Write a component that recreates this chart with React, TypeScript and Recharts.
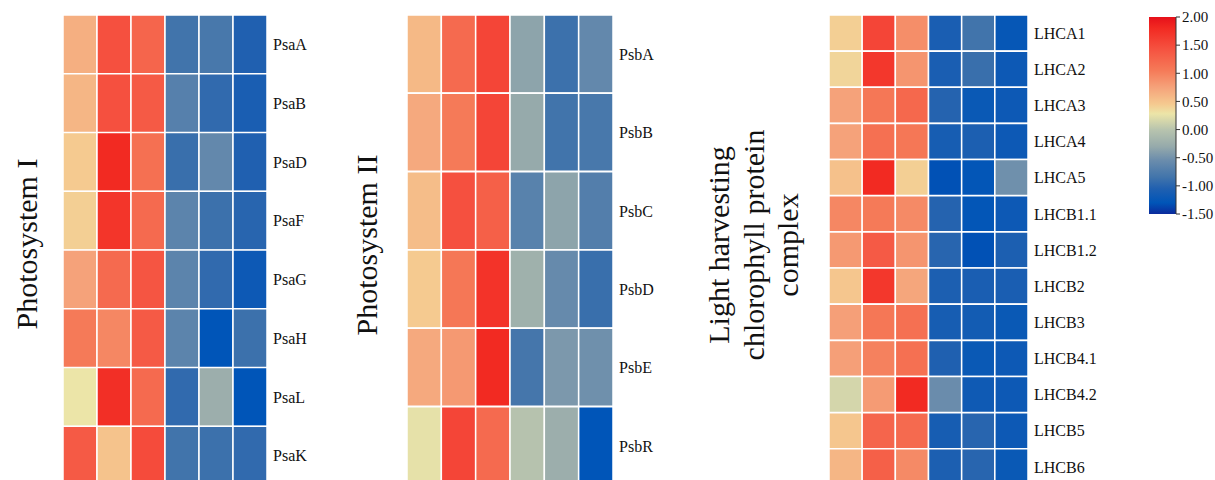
import { Bar, BarChart, Cell, ComposedChart, ReferenceArea, XAxis, YAxis } from 'recharts';

const FONT = "'Liberation Serif', 'Times New Roman', serif";

const psaGenes = ['PsaA', 'PsaB', 'PsaD', 'PsaF', 'PsaG', 'PsaH', 'PsaL', 'PsaK'];
const psaValues = [
  [0.65, 1.45, 1.25, -0.85, -0.8, -1.05],
  [0.6, 1.45, 1.35, -0.7, -0.95, -1.1],
  [0.45, 1.8, 1.15, -0.9, -0.6, -1.05],
  [0.42, 1.7, 1.2, -0.65, -0.88, -1.0],
  [0.75, 1.2, 1.4, -0.65, -0.95, -1.2],
  [1.05, 0.95, 1.35, -0.65, -1.3, -0.88],
  [0.28, 1.75, 1.2, -0.95, -0.25, -1.3],
  [1.35, 0.5, 1.5, -0.85, -0.88, -0.95],
];

const psbGenes = ['PsbA', 'PsbB', 'PsbC', 'PsbD', 'PsbE', 'PsbR'];
const psbValues = [
  [0.58, 1.2, 1.55, -0.35, -0.88, -0.6],
  [0.7, 1.05, 1.55, -0.3, -0.85, -0.8],
  [0.55, 1.45, 1.3, -0.68, -0.35, -0.72],
  [0.45, 1.08, 1.72, -0.22, -0.58, -0.9],
  [0.7, 0.82, 1.8, -0.82, -0.45, -0.52],
  [0.25, 1.55, 1.2, -0.02, -0.25, -1.3],
];

const lhcGenes = ['LHCA1', 'LHCA2', 'LHCA3', 'LHCA4', 'LHCA5', 'LHCB1.1', 'LHCB1.2', 'LHCB2', 'LHCB3', 'LHCB4.1', 'LHCB4.2', 'LHCB5', 'LHCB6'];
const lhcValues = [
  [0.42, 1.55, 0.9, -1.1, -0.85, -1.25],
  [0.38, 1.68, 0.85, -1.1, -0.9, -1.2],
  [0.75, 1.08, 1.22, -1.02, -1.22, -1.2],
  [0.75, 1.15, 1.08, -1.12, -1.08, -1.2],
  [0.52, 1.8, 0.42, -1.32, -1.28, -0.52],
  [0.95, 1.05, 0.93, -1.02, -1.28, -1.2],
  [0.82, 1.35, 0.85, -1.0, -1.32, -1.08],
  [0.48, 1.68, 0.72, -1.08, -1.1, -1.1],
  [0.77, 1.08, 1.15, -1.12, -1.15, -1.22],
  [0.77, 1.0, 1.15, -1.06, -1.22, -1.2],
  [0.15, 0.8, 1.8, -0.55, -1.18, -1.2],
  [0.48, 1.25, 1.2, -1.12, -1.0, -1.2],
  [0.6, 1.3, 0.93, -1.08, -1.0, -1.22],
];

const scaleTicks = [-1.5, -1, -0.5, 0, 0.5, 1, 1.5, 2];

// colour map
const STOPS: [number, string][] = [
  [-1.5, '#0b2a9c'], [-1.3, '#0055b8'], [-1.05, '#2060b0'], [-0.85, '#4174ab'],
  [-0.55, '#6a8cac'], [-0.3, '#96aaab'], [0, '#b8c4ae'], [0.28, '#ece5a8'],
  [0.45, '#f5ca90'], [0.75, '#f5a27a'], [1.05, '#f57a58'], [1.45, '#f5503f'],
  [1.8, '#f22a22'], [2.0, '#e6101a'],
];

const COLS = ['c0', 'c1', 'c2', 'c3', 'c4', 'c5'];

function rgb(h: string) {
  return [1, 3, 5].map((i) => parseInt(h.slice(i, i + 2), 16));
}

function colorFor(v: number) {
  if (v <= STOPS[0][0]) return STOPS[0][1];
  for (let i = 1; i < STOPS.length; i++) {
    const [v1, c1] = STOPS[i];
    if (v <= v1) {
      const [v0, c0] = STOPS[i - 1];
      const t = (v - v0) / (v1 - v0);
      const a = rgb(c0), b = rgb(c1);
      return `rgb(${a.map((x, k) => Math.round(x + (b[k] - x) * t)).join(',')})`;
    }
  }
  return STOPS[STOPS.length - 1][1];
}

function Heatmap({ genes, values, left, width }: { genes: string[]; values: number[][]; left: number; width: number }) {
  const data = genes.map((g) => ({ name: g, c0: 1, c1: 1, c2: 1, c3: 1, c4: 1, c5: 1 }));
  return (
    <div style={{ position: 'absolute', left, top: 0 }}>
      <BarChart width={width + 75} height={485} data={data} layout="vertical" margin={{ top: 15, right: 0, bottom: 0, left: 0 }} barCategoryGap={0}>
        <XAxis type="number" hide domain={[0, 6]} />
        <YAxis type="category" dataKey="name" orientation="right" width={75} axisLine={false} tickLine={false} tickSize={0} tickMargin={6} interval={0}
          tick={{ fontSize: 16, fill: '#111', fontFamily: FONT }} />
        {COLS.map((k, i) => (
          <Bar key={k} dataKey={k} stackId="h" isAnimationActive={false} stroke="#fff" strokeWidth={1.5}>
            {values.map((row, j) => <Cell key={j} fill={colorFor(row[i])} />)}
          </Bar>
        ))}
      </BarChart>
    </div>
  );
}

function ColorBar() {
  const gradStops = STOPS.slice().reverse();
  return (
    <div style={{ position: 'absolute', left: 1149, top: 0 }}>
      <ComposedChart width={80} height={230} data={[{ x: 0 }, { x: 1 }]} margin={{ top: 17, right: 0, bottom: 16, left: 0 }}>
        <defs>
          <linearGradient id="cbar" x1="0" y1="0" x2="0" y2="1">
            {gradStops.map(([v, c]) => <stop key={v} offset={`${((2 - v) / 3.5) * 100}%`} stopColor={c} />)}
          </linearGradient>
        </defs>
        <XAxis type="number" dataKey="x" domain={[0, 1]} hide />
        <YAxis type="number" domain={[-1.5, 2]} ticks={scaleTicks} orientation="right" width={53} allowDataOverflow
          axisLine={{ stroke: '#333' }} tickLine={{ stroke: '#333' }} tickSize={4} tickMargin={2}
          tickFormatter={(v: number) => v.toFixed(2)} tick={{ fontSize: 15, fill: '#111', fontFamily: FONT }} />
        <ReferenceArea x1={0} x2={1} y1={-1.5} y2={2} fill="url(#cbar)" fillOpacity={1} stroke="none" ifOverflow="visible" />
      </ComposedChart>
    </div>
  );
}

export default function App() {
  const titleStyle = { fontFamily: FONT, fontSize: 30, fill: '#111' };
  return (
    <div style={{ position: 'fixed', left: 0, top: 0, width: 1215, height: 480, overflow: 'hidden', background: '#fff' }}>
      <Heatmap genes={psaGenes} values={psaValues} left={63} width={204} />
      <Heatmap genes={psbGenes} values={psbValues} left={407} width={206} />
      <Heatmap genes={lhcGenes} values={lhcValues} left={829} width={199} />
      <ColorBar />
      <svg width={1215} height={480} style={{ position: 'absolute', left: 0, top: 0, pointerEvents: 'none' }}>
        <text x={26} y={244} transform="rotate(-90 26 244)" textAnchor="middle" dominantBaseline="central" style={titleStyle}>Photosystem I</text>
        <text x={366} y={245} transform="rotate(-90 366 245)" textAnchor="middle" dominantBaseline="central" style={titleStyle}>Photosystem II</text>
        <text x={718} y={245} transform="rotate(-90 718 245)" textAnchor="middle" dominantBaseline="central" style={titleStyle}>Light harvesting</text>
        <text x={753} y={245} transform="rotate(-90 753 245)" textAnchor="middle" dominantBaseline="central" style={titleStyle}>chlorophyll protein</text>
        <text x={787} y={245} transform="rotate(-90 787 245)" textAnchor="middle" dominantBaseline="central" style={titleStyle}>complex</text>
      </svg>
    </div>
  );
}
